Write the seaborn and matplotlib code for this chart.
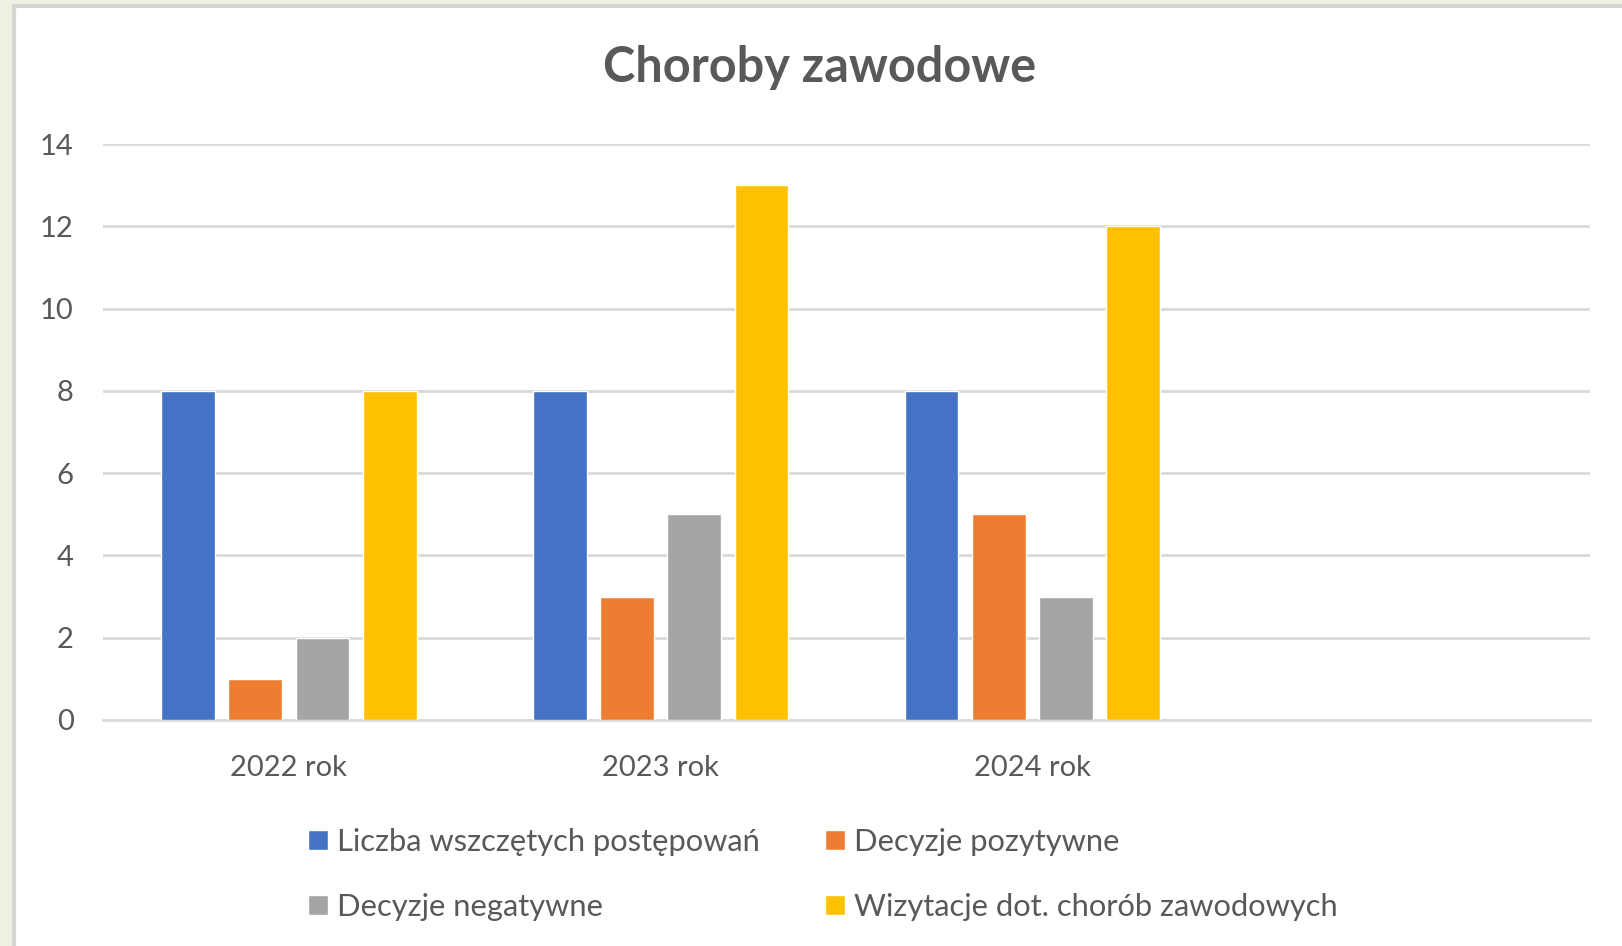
import matplotlib
matplotlib.use("Agg")
import matplotlib.pyplot as plt
import pandas as pd
import seaborn as sns
from matplotlib.patches import Rectangle

# ── dane ──────────────────────────────────────
lata = ["2022 rok", "2023 rok", "2024 rok"]
serie = [
    "Liczba wszczętych postępowań",
    "Decyzje pozytywne",
    "Decyzje negatywne",
    "Wizytacje dot. chorób zawodowych",
]
wszczete = [8, 8, 8]
pozytywne = [1, 3, 5]
negatywne = [2, 5, 3]
wizytacje = [8, 13, 12]
kolory = ["#4472C4", "#ED7D31", "#A5A5A5", "#FFC000"]

df = pd.DataFrame({
    "rok": lata * 4,
    "seria": [s for s in serie for _ in lata],
    "wartosc": wszczete + pozytywne + negatywne + wizytacje,
})

sns.set_theme(style="white")
plt.rcParams["font.family"] = ["Lato", "DejaVu Sans"]
TXT = "#595959"

fig = plt.figure(figsize=(16.22, 9.46), dpi=100, facecolor="#EFF2E3")
# białe tło wykresu z szarą ramką
fig.patches.append(Rectangle((14 / 1622, -0.1), 1.2, 1.1 - 6 / 946,
                             transform=fig.transFigure, facecolor="white",
                             edgecolor="#D6D6D6", linewidth=3, zorder=-5))

ax = fig.add_axes([103 / 1622, 1 - 720 / 946, (1590 - 103) / 1622, (720 - 144) / 946])
ax.set_facecolor("none")
ax.set_zorder(2)

sns.barplot(data=df, x="rok", y="wartosc", hue="seria", hue_order=serie,
            order=lata, palette=kolory, width=0.724, gap=0.2,
            saturation=1, ax=ax, legend=True, zorder=3)

ax.set_xlim(-0.5, 3.5)
ax.set_ylim(0, 14)
ax.set_yticks(range(0, 15, 2))
ax.yaxis.grid(True, color="#D9D9D9", linewidth=2, zorder=0)
ax.set_axisbelow(True)
for s in ["top", "right", "left"]:
    ax.spines[s].set_visible(False)
ax.spines["bottom"].set_color("#D9D9D9")
ax.spines["bottom"].set_linewidth(2)
ax.set_xlabel("")
ax.set_ylabel("")
ax.tick_params(axis="both", length=0, labelsize=21, labelcolor=TXT)
ax.tick_params(axis="x", pad=25)
ax.tick_params(axis="y", pad=21)

fig.text(820 / 1622, 1 - 68 / 946, "Choroby zawodowe", ha="center", va="center",
         fontsize=35, fontweight="bold", color=TXT)

handles, labels = ax.get_legend_handles_labels()
ax.get_legend().remove()
kol = [0, 2, 1, 3]  # kolejność wierszami
leg = fig.legend([handles[i] for i in kol], [labels[i] for i in kol],
                 ncol=2, loc="upper left",
                 bbox_to_anchor=(280 / 1622, 1 - 800 / 946),
                 frameon=False, fontsize=22.2, labelcolor=TXT,
                 handlelength=0.65, handleheight=0.65, handletextpad=0.3,
                 columnspacing=2.1, labelspacing=1.2)

fig.savefig("out.png", dpi=100, facecolor=fig.get_facecolor())
